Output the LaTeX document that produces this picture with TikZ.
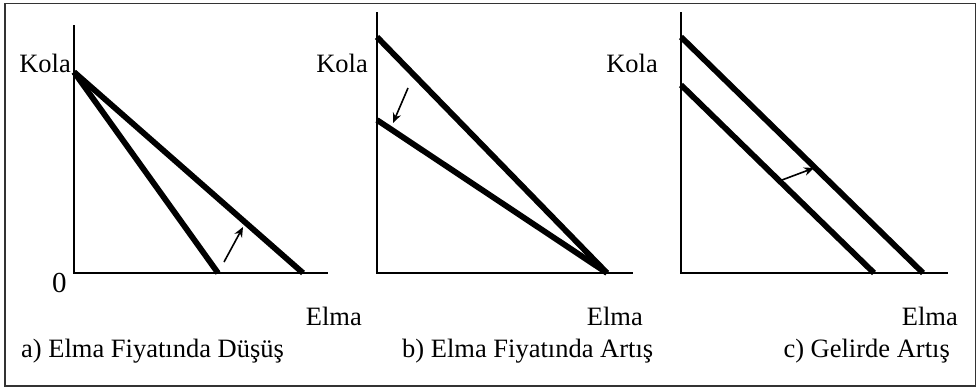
\documentclass[tikz,border=0pt]{standalone}
\usepackage{fontspec}
\setmainfont{Liberation Serif}
\usetikzlibrary{arrows.meta}
\tikzset{
  lbl/.style={inner sep=0pt, font=\fontsize{26.5}{31}\selectfont},
  zerolbl/.style={inner sep=0pt, font=\fontsize{29}{34}\selectfont},
  axisline/.style={line width=2pt, line cap=rect},
  budget/.style={line width=5.8pt},
  shiftarrow/.style={line width=1.6pt, -{Stealth[length=10pt,width=8.5pt]}},
  frameline/.style={line width=1.6pt, draw=black!80}
}
\begin{document}
\begin{tikzpicture}[x=1pt,y=-1pt]
\useasboundingbox[fill=white] (0,0) rectangle (977,388);
\draw[frameline] (5,3.5) rectangle (975.5,386);
% Panel a
\coordinate (aT) at (74,26); \coordinate (aO) at (74,273); \coordinate (aR) at (327,273);
\coordinate (aK) at (74,72); \coordinate (aE1) at (218,273); \coordinate (aE2) at (303,273);
\coordinate (aS) at (224,262); \coordinate (aF) at (243,227);
\draw[axisline] (aT) -- (aO) -- (aR);
\draw[budget] (aK) -- (aE1);
\draw[budget] (aK) -- (aE2);
\draw[shiftarrow] (aS) -- (aF);
\node[lbl, anchor=base east] (aKola) at (71,72) {Kola};
\node[zerolbl, anchor=base west] (aZero) at (52,292) {0};
\node[lbl, anchor=base east] (aElma) at (362,325) {Elma};
\node[lbl, anchor=base west] (aCap) at (21,357) {a) Elma Fiyatında Düşüş};
% Panel b
\coordinate (bT) at (377,13); \coordinate (bO) at (377,273); \coordinate (bR) at (632,273);
\coordinate (bK1) at (377,37); \coordinate (bK2) at (377,120); \coordinate (bE) at (607,273);
\coordinate (bS) at (408,88); \coordinate (bF) at (393,123);
\draw[axisline] (bT) -- (bO) -- (bR);
\draw[budget] (bK1) -- (bE);
\draw[budget] (bK2) -- (bE);
\draw[shiftarrow] (bS) -- (bF);
\node[lbl, anchor=base east] (bKola) at (368,72) {Kola};
\node[lbl, anchor=base east] (bElma) at (643,325) {Elma};
\node[lbl, anchor=base west] (bCap) at (402,357) {b) Elma Fiyatında Artış};
% Panel c
\coordinate (cT) at (681,13); \coordinate (cO) at (681,273); \coordinate (cR) at (947,273);
\coordinate (cK1) at (681,37); \coordinate (cK2) at (681,85);
\coordinate (cE1) at (923,273); \coordinate (cE2) at (874,273);
\coordinate (cS) at (782,180); \coordinate (cF) at (814,168);
\draw[axisline] (cT) -- (cO) -- (cR);
\draw[budget] (cK1) -- (cE1);
\draw[budget] (cK2) -- (cE2);
\draw[shiftarrow] (cS) -- (cF);
\node[lbl, anchor=base east] (cKola) at (658,72) {Kola};
\node[lbl, anchor=base east] (cElma) at (958,325) {Elma};
\node[lbl, anchor=base east] (cCap) at (950,357) {c) Gelirde Artış};
\end{tikzpicture}
\end{document}
